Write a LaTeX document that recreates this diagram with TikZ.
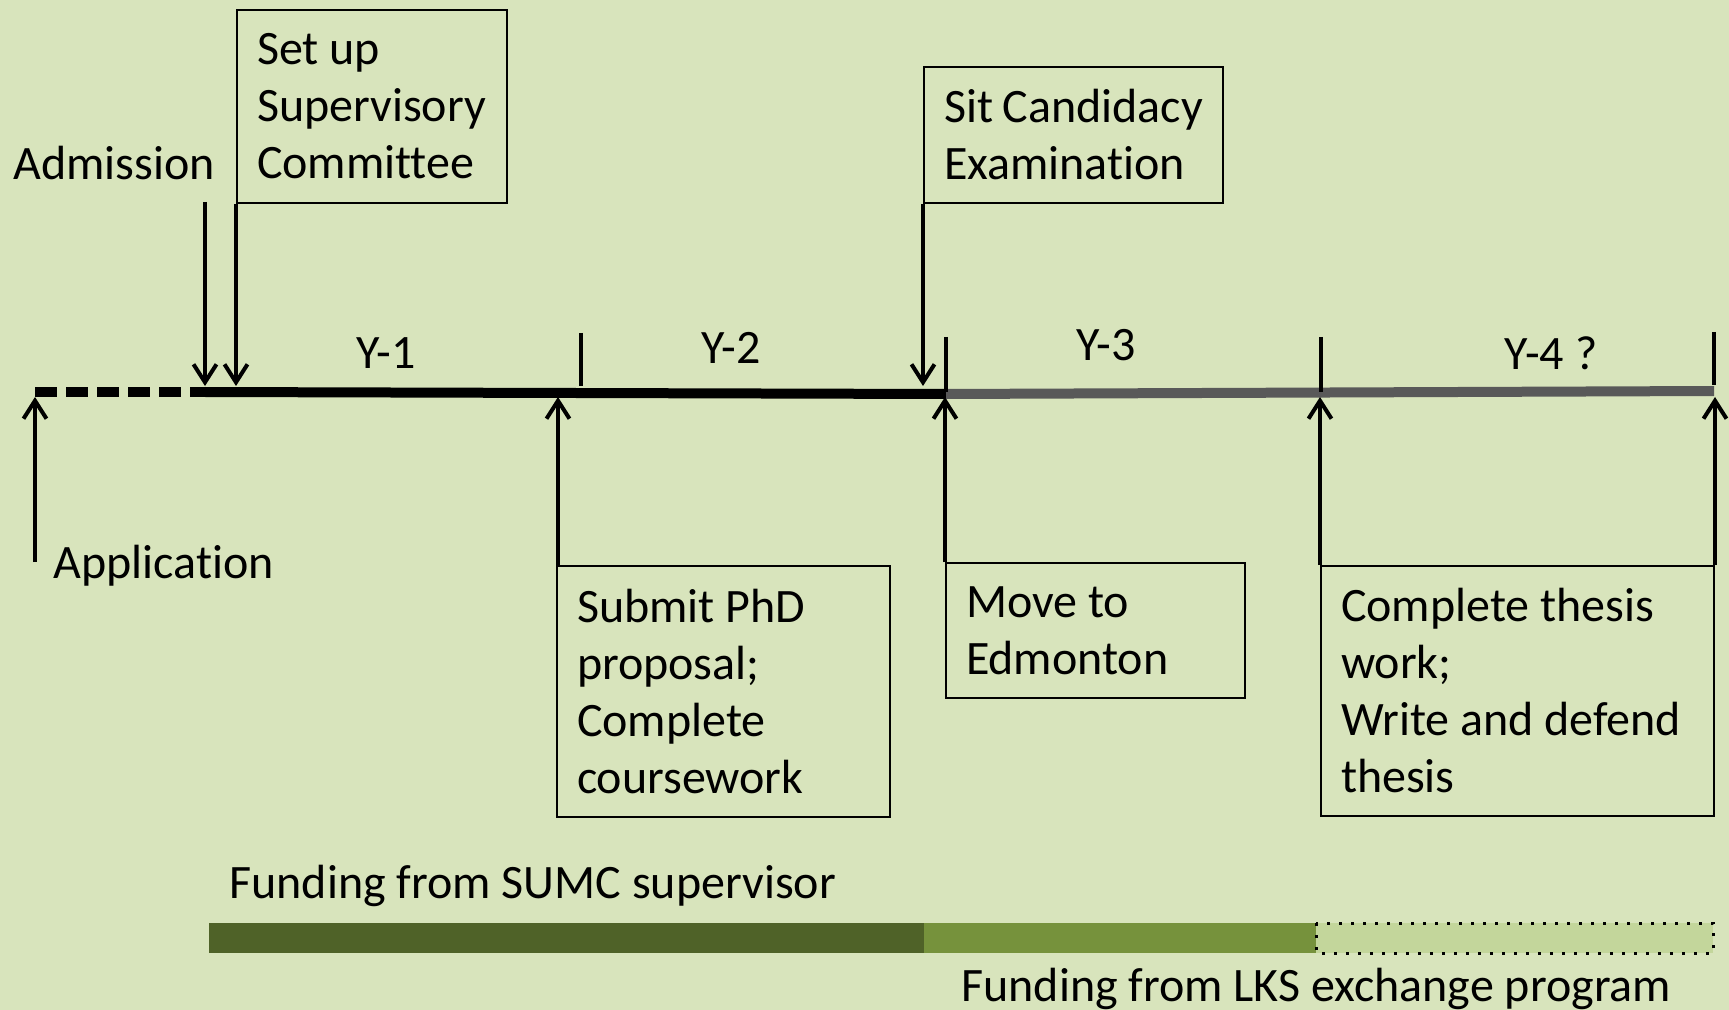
\documentclass[tikz,border=0pt]{standalone}
\usepackage{fontspec}
\setmainfont[Ligatures=NoCommon]{Carlito}
\usetikzlibrary{arrows.meta}
\definecolor{bgolive}{HTML}{D8E4BC}
\definecolor{fundDark}{HTML}{4F6228}
\definecolor{fundMid}{HTML}{76923C}
\definecolor{fundLight}{HTML}{C3D69B}
\definecolor{lineGray}{HTML}{595959}

\begin{document}
\begin{tikzpicture}[x=0.5pt, y=-0.5pt,
	font=\fontsize{24}{28.5}\selectfont,
	milestone/.style={draw, line width=1pt, align=flush left, inner xsep=10pt, inner ysep=0pt},
	pointer/.style={line width=2pt, -{Straight Barb[length=9pt, width=11.5pt]}},
	tickmark/.style={line width=2pt},
	plain/.style={inner sep=0pt}]
	\useasboundingbox[fill=bgolive] (0,0) rectangle (1729,1010); % Hintergrund
	
	\coordinate (lineTop) at (0,386);
	\coordinate (lineBot) at (0,397);
	\coordinate (tStart) at (35,392);
	\coordinate (tAdm) at (205,392);
	\coordinate (tCand) at (946,394);
	\coordinate (tEnd) at (1714,391);
	
	% Zeitachse
	\draw[line width=5pt, dash pattern=on 11pt off 4.5pt] (tStart) -- (tAdm);
	\draw[line width=5pt] (tAdm) -- (tCand);
	\draw[line width=5pt, lineGray] (tCand) -- (tEnd);
	
	\draw[tickmark] (581,333) -- (581,386);
	\draw[tickmark] (946,337) -- (946,392);
	\draw[tickmark] (1321,337) -- (1321,392);
	\draw[tickmark] (1714,332) -- (1714,385);
	
	\node[plain] (y1) at (386,353) {Y-1};
	\node[plain] (y2) at (731,348) {Y-2};
	\node[plain] (y3) at (1106,345) {Y-3};
	\node[plain] (y4) at (1551,353) {Y-4 ?};
	
	% Kaesten oben
	\node[milestone, text width=115pt, minimum height=96.5pt] (setup) at (372,106.5) {Set up\\Supervisory\\Committee};
	\node[milestone, text width=129.5pt, minimum height=68pt] (cand) at (1073.5,135) {Sit Candidacy\\Examination};
	\node[plain, anchor=base west] (adm) at (13,180) {Admission};
	\coordinate (admFoot) at (205,202);
	
	\draw[pointer] (admFoot) -- (admFoot |- lineTop);
	\draw[pointer] (setup.south west) -- (setup.south west |- lineTop);
	\draw[pointer] (cand.south west) -- (cand.south west |- lineTop);
	
	% Kaesten unten
	\node[milestone, text width=146.5pt, minimum height=125.5pt] (submit) at (723.5,691.5) {Submit PhD\\proposal;\\Complete\\coursework};
	\node[milestone, text width=129.5pt, minimum height=67.5pt] (move) at (1095.5,630.5) {Move to\\Edmonton};
	\node[milestone, text width=176.5pt, minimum height=125pt] (thesis) at (1517.5,691) {Complete thesis\\work;\\Write and defend\\thesis};
	\node[plain, anchor=base west] (appl) at (53,578) {Application};
	\coordinate (applFoot) at (35,562);
	
	\draw[pointer] (applFoot) -- (applFoot |- lineBot);
	\draw[pointer] ([xshift=1pt]submit.north west) -- ([xshift=1pt]submit.north west |- lineBot);
	\draw[pointer] (move.north west) -- (move.north west |- lineBot);
	\draw[pointer] (thesis.north west) -- (thesis.north west |- lineBot);
	\draw[pointer] (thesis.north east) -- (thesis.north east |- lineBot);
	
	% Finanzierung
	\node[plain, anchor=base west] (sumc) at (229,898) {Funding from SUMC supervisor};
	\fill[fundDark] (209,923) rectangle (924,953);
	\fill[fundMid] (924,923) rectangle (1316,953);
	\fill[fundLight] (1316,923) rectangle (1713,953);
	\draw[line width=1.5pt, dash pattern=on 1.5pt off 4.5pt] (1316,923) rectangle (1713,953);
	\node[plain, anchor=base west] (lks) at (961,1001) {Funding from LKS exchange program};
\end{tikzpicture}
\end{document}
